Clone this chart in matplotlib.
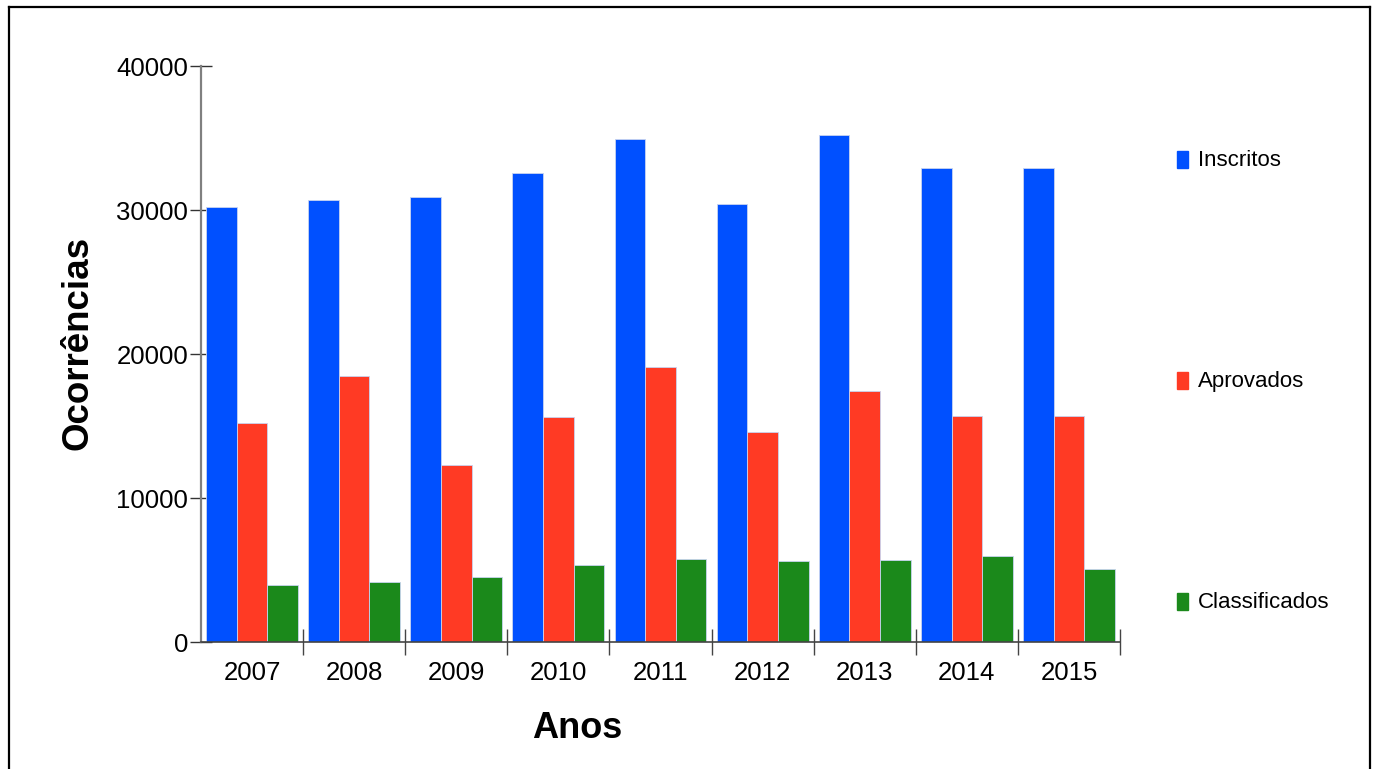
import matplotlib.pyplot as plt
import numpy as np
from matplotlib.lines import Line2D
from matplotlib.patches import Rectangle

plt.rcParams['font.family'] = ['Liberation Sans', 'DejaVu Sans']

anos = ['2007', '2008', '2009', '2010', '2011', '2012', '2013', '2014', '2015']
inscritos = [30190, 30670, 30920, 32550, 34910, 30400, 35190, 32900, 32900]
aprovados = [15210, 18450, 12270, 15625, 19100, 14600, 17450, 15690, 15690]
classificados = [3960, 4150, 4490, 5350, 5760, 5625, 5690, 5970, 5070]
series = ['Inscritos', 'Aprovados', 'Classificados']
cores = ['#0050FF', '#FF3A24', '#1B891B']

fig = plt.figure(figsize=(13.77, 7.69), dpi=100)
ax = fig.add_axes([201 / 1377, 1 - 642 / 769, 919 / 1377, 576 / 769])

x = np.arange(len(anos))
w = 0.3
for i, (vals, cor) in enumerate(zip([inscritos, aprovados, classificados], cores)):
    ax.bar(x + 0.05 + w * i, vals, width=w, align='edge', color=cor,
           edgecolor='#c8d4f0', linewidth=0.6, zorder=2)

ax.set_xlim(0, len(anos))
ax.set_ylim(0, 40000)
ax.set_yticks([0, 10000, 20000, 30000, 40000])
ax.tick_params(axis='y', direction='inout', length=16.5, width=1.0,
               color='#333333', labelsize=18.5, pad=1)

ax.set_xticks(x + 0.5)
ax.set_xticklabels(anos)
ax.tick_params(axis='x', which='major', length=0, labelsize=18.5, pad=14)
ax.set_xticks(np.arange(1, len(anos) + 1), minor=True)
ax.tick_params(axis='x', which='minor', direction='inout', length=19,
               width=1.0, color='#444444')

for s in ['top', 'right']:
    ax.spines[s].set_visible(False)
ax.spines['left'].set_color('#808080')
ax.spines['left'].set_linewidth(1.6)
ax.spines['bottom'].set_color('#444444')
ax.spines['bottom'].set_linewidth(1.2)

fig.text(577 / 1377, 1 - 729 / 769, 'Anos', fontsize=26, fontweight='bold',
         ha='center', va='center')
fig.text(78 / 1377, 1 - 343 / 769, 'Ocorrências', fontsize=26.5, fontweight='bold',
         ha='center', va='center', rotation=90)

# legenda manual
leg_y = [159, 380, 601]
for nome, cor, yy in zip(series, cores, leg_y):
    fig.patches.append(Rectangle((1177 / 1377, 1 - (yy + 9) / 769), 11 / 1377, 17 / 769,
                                 transform=fig.transFigure, color=cor))
    fig.text(1198 / 1377, 1 - (yy + 2) / 769, nome, fontsize=16, ha='left', va='center')

# moldura
fig.add_artist(Line2D([9 / 1377, 9 / 1377], [0, 1 - 7 / 769], color='black', lw=1.6,
                      transform=fig.transFigure))
fig.add_artist(Line2D([9 / 1377, 1370 / 1377], [1 - 7 / 769, 1 - 7 / 769], color='black',
                      lw=1.6, transform=fig.transFigure))
fig.add_artist(Line2D([1370 / 1377, 1370 / 1377], [0, 1 - 7 / 769], color='black', lw=1.6,
                      transform=fig.transFigure))

fig.savefig('out.png', dpi=100)
